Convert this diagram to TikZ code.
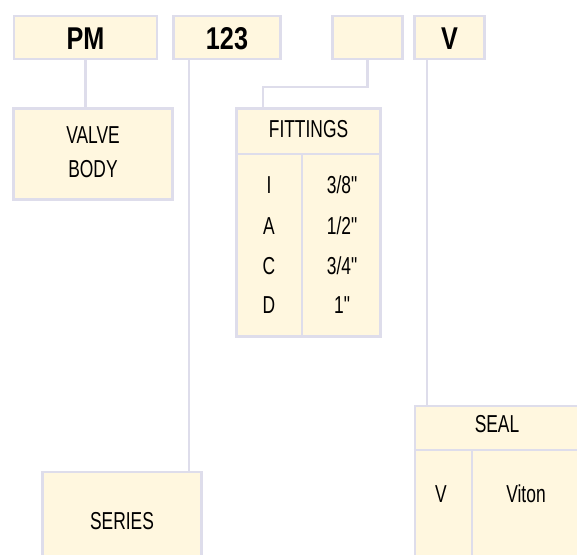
\documentclass[tikz,border=0pt]{standalone}
\usepackage{fontspec}
\newfontfamily\condreg{Liberation Sans}[FakeStretch=0.71]
\newfontfamily\condbold{Liberation Sans Bold}[FakeStretch=0.80]
\definecolor{boxfill}{HTML}{FFF7DF}
\definecolor{boxline}{HTML}{DEDDEB}
\tikzset{
  box/.style={draw=boxline, fill=boxfill, line width=2.8pt, inner sep=0pt, anchor=center},
  conn/.style={draw=boxline, line width=2.8pt},
  rule/.style={draw=boxline, line width=2.2pt},
  lbl/.style={font=\condreg\fontsize{24.5}{30}\selectfont, inner sep=0pt, text height=17.8pt, text depth=0pt, anchor=center},
  blbl/.style={font=\condbold\fontsize{31.5}{36}\selectfont, inner sep=0pt, text height=23pt, text depth=0pt, anchor=center},
}
\begin{document}
\begin{tikzpicture}[x=1pt,y=-1pt]
\clip (0,0) rectangle (577,554);
\fill[white] (0,0) rectangle (577,554);
% top code boxes
\node[box, minimum width=143pt, minimum height=43pt] (pm) at (85.5,37.5) {};
\node[blbl] (pmt) at (pm.center) {PM};
\node[box, minimum width=107pt, minimum height=43pt] (num) at (227,37.5) {};
\node[blbl] (numt) at (num.center) {123};
\node[box, minimum width=70pt, minimum height=43pt] (blank) at (367.5,37.5) {};
\node[box, minimum width=70pt, minimum height=43pt] (vb) at (449.5,37.5) {};
\node[blbl] (vbt) at (vb.center) {V};
% valve body
\node[box, minimum width=159pt, minimum height=91pt] (body) at (93,154) {};
\node[lbl] (bodyt1) at (93,135) {VALVE};
\node[lbl] (bodyt2) at (93,169) {BODY};
% series
\node[box, minimum width=159pt, minimum height=120pt] (series) at (122,532) {};
\node[lbl] (seriest) at (122,521) {SERIES};
% fittings
\node[box, minimum width=144pt, minimum height=228pt] (fit) at (308.5,222.5) {};
\coordinate (fitrow) at (302,154);
\draw[rule] (fit.west |- fitrow) -- (fit.east |- fitrow);
\draw[rule] (fitrow) -- (fitrow |- fit.south);
\node[lbl] (fitt) at (308.5,129) {FITTINGS};
\node[lbl] (f1a) at (269,185) {I};
\node[lbl] (f1b) at (342,185) {3/8"};
\node[lbl] (f2a) at (269,226) {A};
\node[lbl] (f2b) at (342,226) {1/2"};
\node[lbl] (f3a) at (269,266) {C};
\node[lbl] (f3b) at (342,266) {3/4"};
\node[lbl] (f4a) at (269,305) {D};
\node[lbl] (f4b) at (342,305) {1"};
% seal
\node[box, minimum width=166pt, minimum height=200pt] (seal) at (498,506) {};
\coordinate (sealrow) at (472,450);
\draw[rule] (seal.west |- sealrow) -- (seal.east |- sealrow);
\draw[rule] (sealrow) -- (sealrow |- seal.south);
\node[lbl] (sealt) at (497,424) {SEAL};
\node[lbl] (s1a) at (441,494) {V};
\node[lbl] (s1b) at (526,494) {Viton};
% connectors
\draw[conn] (pm.south) -- (pm.south |- body.north);
\coordinate (numdrop) at (189,59);
\draw[conn] (numdrop) -- (numdrop |- series.north);
\coordinate (fitjog) at (263,87);
\draw[conn] (blank.south) |- (fitjog) -- (fitjog |- fit.north);
\coordinate (vdrop) at (427,59);
\draw[conn] (vdrop) -- (vdrop |- seal.north);
\end{tikzpicture}
\end{document}
